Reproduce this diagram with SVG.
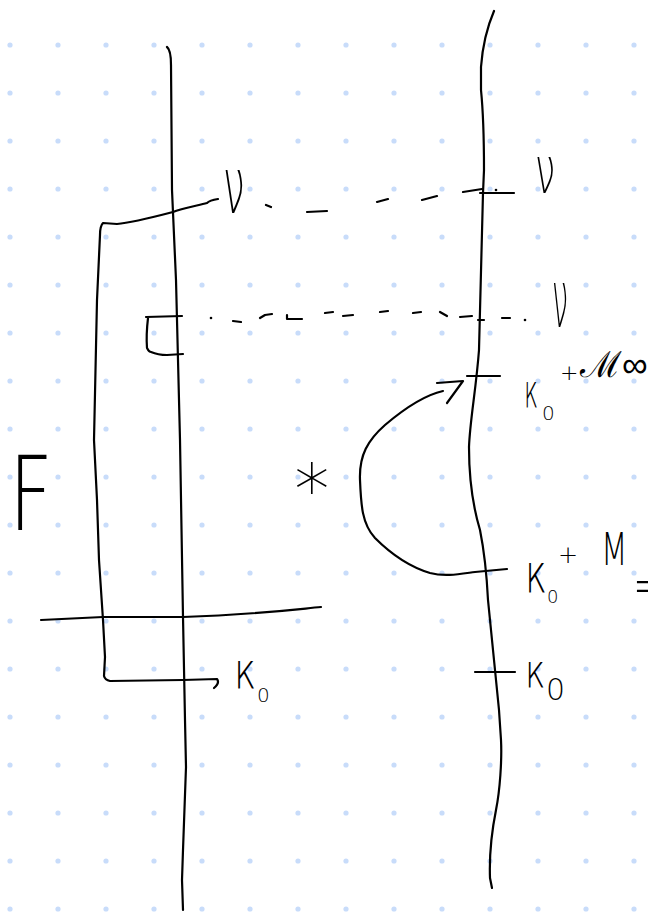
<svg xmlns="http://www.w3.org/2000/svg" width="648" height="912" viewBox="0 0 648 912">
<style>
.ink{fill:none;stroke:#000;stroke-width:2.2;stroke-linecap:round;stroke-linejoin:round}
.hw{font-family:"DejaVu Sans","Liberation Sans",sans-serif;font-weight:200;fill:#000}
</style>
<defs>
<pattern id="dots" patternUnits="userSpaceOnUse" x="-14" y="21" width="48" height="48">
<circle cx="24" cy="24" r="2.6" fill="#c8dcfa"/>
</pattern>
</defs>
<rect width="648" height="912" fill="#fff"/>
<rect width="648" height="912" fill="url(#dots)"/>

<g id="left-line">
<path class="ink" d="M167,47 Q171,50 171,65 L172,190 L176,280 L180,440 L183,617 L185,720 L186,767 L183,850 L182,880 L183,910"/>
</g>
<g id="right-line">
<path class="ink" d="M494,11 C488,25 483,40 481,67 L481,90 C483,110 484,150 484,170 L483,193 L479,350 C476,390 470,420 469,447 C469,480 474,510 480,530 C485,555 487,580 488,600 L495,670 L499,710 L501,740 C502,760 500,790 496,810 C492,830 489,850 490,878 L492,888"/>
<path class="ink" d="M467,376 L500,376"/>
<path class="ink" d="M475,672 L515,672"/>
</g>
<g id="axis">
<path class="ink" d="M41,620 L103,617 L183,617 C250,615 290,610 321,607"/>
</g>
<g id="bracket-big">
<path class="ink" d="M218,199 C212,200 208,202 207,203 C195,206 180,209 173,212 C150,218 130,223 117,224 L103,223 Q100,226 100,235 L97,300 L94,440 L97,500 L99,560 L103,620 L105,657 L104,676 Q105,680 110,681 L183,680 L217,679 Q220,683 214,688"/>
</g>
<g id="bracket-small">
<path class="ink" d="M146,317 L182,316 M148,318 Q146,335 147,348 Q149,352 151,352 Q158,355 167,355 L183,354"/>
</g>

<g id="connectors">
<g id="dashed-top">
<path class="ink" d="M266,205 L271,207 M307,212 L327,211 M377,202 L388,199 M422,200 L437,196 M463,192 L482,189 M480,193 L514,193"/>
<circle cx="496" cy="190" r="1.3" fill="#000"/>
</g>
<g id="dashed-second">
<circle cx="211" cy="318" r="1.3" fill="#000"/>
<path class="ink" d="M233,321 L241,322 M260,318 L265,315 L272,314 M287,315 L287,319 L302,319 M325,313 L333,312 M343,316 L353,315 M380,312 L388,311 M413,313 L421,312 M440,312 L447,316 M460,317 L472,316 M478,320 L484,320 M502,318 L510,318"/>
<circle cx="525" cy="320" r="1.3" fill="#000"/>
</g>
<g id="arc">
<path class="ink" d="M507,569 L475,572 C460,574 445,577 430,573 C410,567 390,553 375,538 C362,524 361,505 360,480 C359,455 368,440 385,425 C405,408 425,395 443,391"/>
<path class="ink" d="M437,383 L463,381 L447,403"/>
</g>
</g>

<g id="labels">
<text class="hw" transform="translate(9,530) scale(0.74,1)" font-size="103">F</text>
<text class="hw" transform="translate(223,213) scale(0.5,1)" font-size="78">ν</text>
<text class="hw" transform="translate(535,193) scale(0.55,1)" font-size="66">ν</text>
<text class="hw" transform="translate(552,327) scale(0.36,1)" font-size="80">ν</text>
<text class="hw" x="290" y="500" font-size="70">∗</text>
<g id="label-k0-m-inf">
<text class="hw" transform="translate(524,407) scale(0.52,1)" font-size="46">κ</text>
<text class="hw" x="542" y="420" font-size="20">0</text>
<text class="hw" x="560" y="380" font-size="22">+</text>
<text class="hw" x="580" y="377" font-size="36">ℳ∞</text>
</g>
<g id="label-k0-m">
<text class="hw" transform="translate(525,592) scale(0.7,1)" font-size="53">κ</text>
<text class="hw" x="547" y="603" font-size="18">0</text>
<text class="hw" x="558" y="563" font-size="24">+</text>
<text class="hw" transform="translate(601,565) scale(0.7,1)" font-size="44">M</text>
<text class="hw" x="631" y="604" font-size="56">=</text>
</g>
<g id="label-k0-right">
<text class="hw" transform="translate(525,687) scale(0.75,1)" font-size="46">κ</text>
<text class="hw" x="546" y="700" font-size="30">0</text>
</g>
<g id="label-k0-left">
<text class="hw" transform="translate(234,688) scale(0.75,1)" font-size="50">κ</text>
<text class="hw" x="257" y="702" font-size="20">0</text>
</g>
</g>
</svg>
